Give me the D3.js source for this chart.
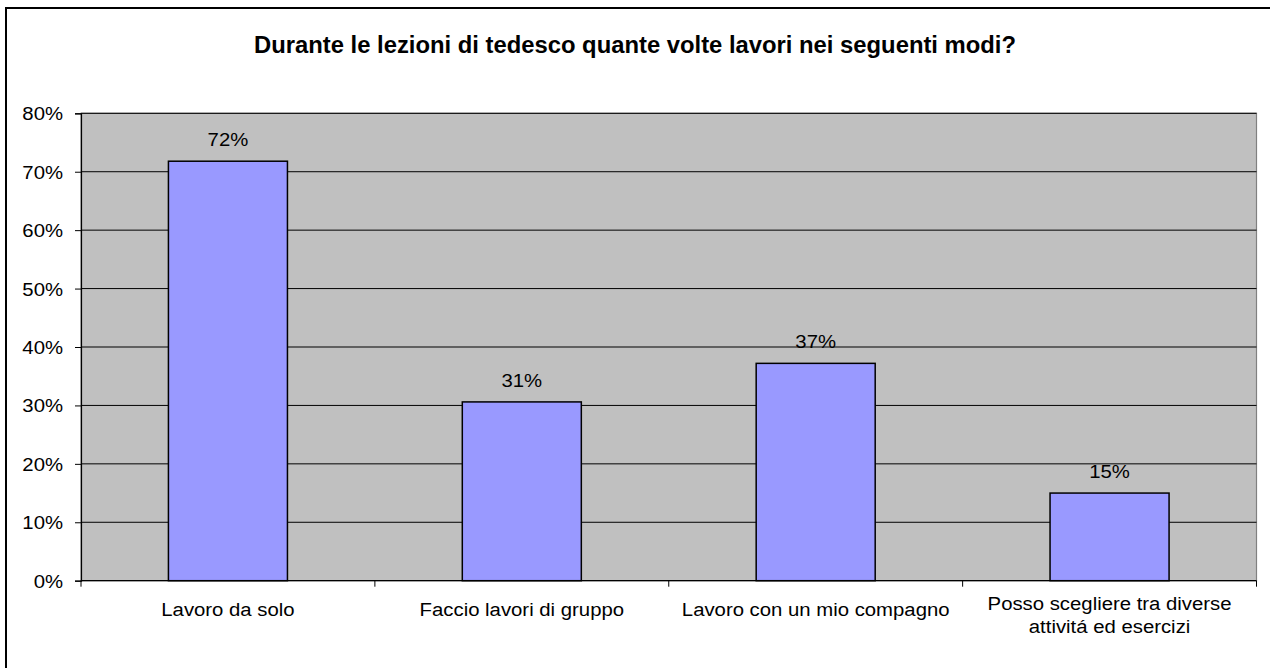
<!DOCTYPE html>
<html>
<head>
<meta charset="utf-8">
<script src="https://cdn.jsdelivr.net/npm/d3@7"></script>
<style>
  html, body { margin: 0; padding: 0; background: #fff; }
  svg { display: block; }
  text { font-family: "Liberation Sans", Arial, sans-serif; fill: #000; }
</style>
</head>
<body>
<svg id="chart" width="1270" height="668"></svg>
<script>
// Survey answers: share of students per working mode
const titleText = "Durante le lezioni di tedesco quante volte lavori nei seguenti modi?";
const categories = [
  ["Lavoro da solo"],
  ["Faccio lavori di gruppo"],
  ["Lavoro con un mio compagno"],
  ["Posso scegliere tra diverse", "attivitá ed esercizi"]
];
const values = [0.718, 0.306, 0.372, 0.150];
const yTicks = [0, 0.1, 0.2, 0.3, 0.4, 0.5, 0.6, 0.7, 0.8];

const svg = d3.select("#chart");
const W = 1270, H = 668;
const plot = { left: 81, right: 1256.5, top: 113.3, bottom: 580.7 };
const fontSize = 18;
const textStretch = 1.13; // labels are drawn slightly wide

// outer frame (runs off the right and bottom edges)
svg.append("rect")
  .attr("x", 6).attr("y", 8).attr("width", W + 20).attr("height", H + 20)
  .attr("fill", "#fff").attr("stroke", "#000").attr("stroke-width", 2);

// title
svg.append("text")
  .attr("x", W / 2).attr("y", 53)
  .attr("text-anchor", "middle")
  .attr("font-weight", "bold")
  .attr("font-size", 23)
  .attr("textLength", 762)
  .attr("lengthAdjust", "spacingAndGlyphs")
  .text(titleText);

const idx = categories.map((d, i) => i);
const x = d3.scaleBand().domain(idx).range([plot.left, plot.right]).paddingInner(0).paddingOuter(0);
const y = d3.scaleLinear().domain([0, 0.8]).range([plot.bottom, plot.top]);
const barW = x.bandwidth() * 0.405;

// plot background
svg.append("rect")
  .attr("x", plot.left).attr("y", plot.top)
  .attr("width", plot.right - plot.left).attr("height", plot.bottom - plot.top)
  .attr("fill", "#C0C0C0").attr("stroke", "#808080").attr("stroke-width", 1.2);

// horizontal gridlines
svg.append("g")
  .selectAll("line")
  .data(yTicks.filter(t => t > 0))
  .join("line")
  .attr("x1", plot.left).attr("x2", plot.right)
  .attr("y1", d => y(d)).attr("y2", d => y(d))
  .attr("stroke", "#000").attr("stroke-width", 1);

// bars
svg.append("g")
  .selectAll("rect")
  .data(values)
  .join("rect")
  .attr("x", (d, i) => x(i) + (x.bandwidth() - barW) / 2)
  .attr("y", d => y(d))
  .attr("width", barW)
  .attr("height", d => y(0) - y(d))
  .attr("fill", "#9999FF")
  .attr("stroke", "#000").attr("stroke-width", 1.5);

const fmt = d3.format(".0%");

// value labels above bars
svg.append("g")
  .selectAll("text")
  .data(values)
  .join("text")
  .attr("text-anchor", "middle")
  .attr("font-size", fontSize)
  .attr("transform", (d, i) => `translate(${x(i) + x.bandwidth() / 2},${y(d) - 15}) scale(${textStretch},1)`)
  .text(d => fmt(d));

// y axis
const yAxis = svg.append("g")
  .attr("transform", `translate(${plot.left},0)`)
  .call(d3.axisLeft(y).tickValues(yTicks).tickFormat(fmt).tickSize(6).tickPadding(0));
yAxis.select(".domain").attr("stroke", "#000").attr("stroke-width", 1.2);
yAxis.selectAll(".tick line").attr("stroke", "#000").attr("stroke-width", 1);
yAxis.selectAll(".tick text")
  .attr("font-size", fontSize)
  .attr("font-family", "Liberation Sans, Arial, sans-serif")
  .attr("x", null).attr("dy", null)
  .attr("transform", `translate(-18,6.5) scale(${textStretch},1)`);

// x axis: baseline with ticks at category boundaries
const xg = svg.append("g");
xg.append("line")
  .attr("x1", plot.left).attr("x2", plot.right)
  .attr("y1", plot.bottom).attr("y2", plot.bottom)
  .attr("stroke", "#000").attr("stroke-width", 1.2);
xg.selectAll("line.tk")
  .data(idx.concat([idx.length]))
  .join("line")
  .attr("class", "tk")
  .attr("x1", d => d < idx.length ? x(d) : plot.right)
  .attr("x2", d => d < idx.length ? x(d) : plot.right)
  .attr("y1", plot.bottom).attr("y2", plot.bottom + 6)
  .attr("stroke", "#000").attr("stroke-width", 1);

// category labels (wrapped labels start a little higher)
const cat = xg.selectAll("g.cat")
  .data(categories)
  .join("g")
  .attr("class", "cat")
  .attr("transform", (d, i) => `translate(${x(i) + x.bandwidth() / 2},${d.length > 1 ? 610 : 616})`);
cat.selectAll("text")
  .data(d => d)
  .join("text")
  .attr("text-anchor", "middle")
  .attr("font-size", fontSize)
  .attr("transform", (d, j) => `translate(0,${j * 23}) scale(${textStretch},1)`)
  .text(d => d);
</script>
</body>
</html>
